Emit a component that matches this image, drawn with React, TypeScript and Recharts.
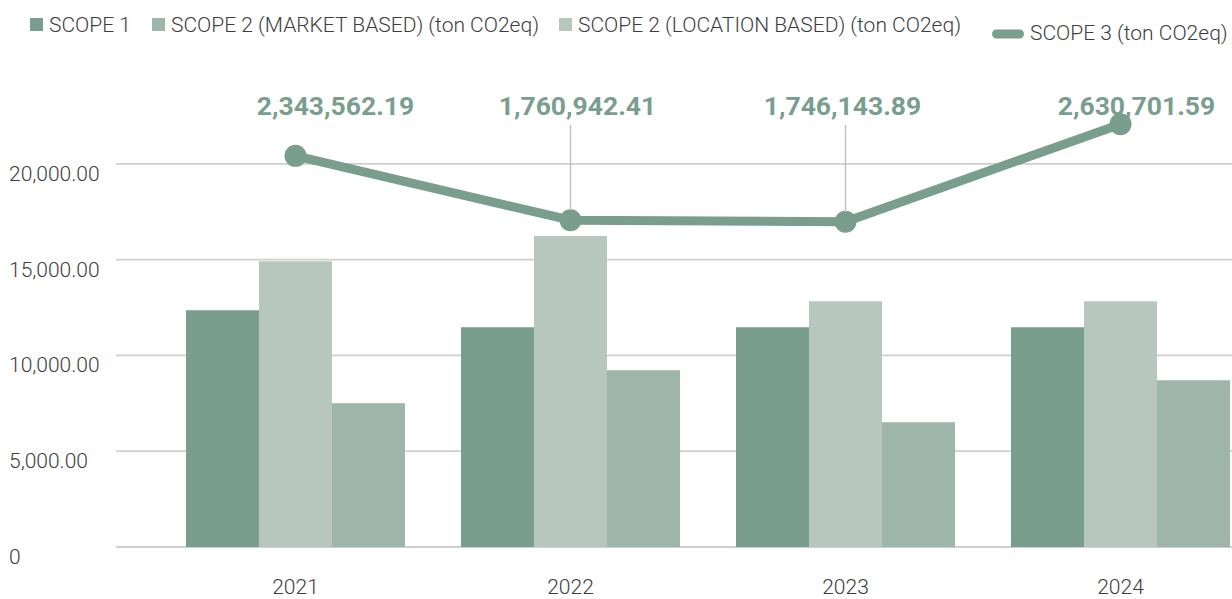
import React from 'react';
import { ComposedChart, Bar, Line, XAxis, YAxis, CartesianGrid, Legend, LabelList } from 'recharts';

// ---- data ----
const years = ['2021', '2022', '2023', '2024'];
const scope1 = [12360, 11470, 11470, 11470];
const scope2Location = [14920, 16230, 12830, 12830];
const scope2Market = [7500, 9230, 6510, 8700];
const scope3 = [2343562.19, 1760942.41, 1746143.89, 2630701.59];
const leftTicks = [0, 5000, 10000, 15000, 20000];

const NAME_S1 = 'SCOPE 1';
const NAME_S2M = 'SCOPE 2 (MARKET BASED) (ton CO2eq)';
const NAME_S2L = 'SCOPE 2 (LOCATION BASED) (ton CO2eq)';
const NAME_S3 = 'SCOPE 3 (ton CO2eq)';

// ---- styles / layout ----
const C_DARK = '#799e8e';
const C_LIGHT = '#b7c7bf';
const C_MED = '#9db5aa';
const TEXT = '#3d3d3d';
const FONT = 'Roboto, "Noto Sans", sans-serif';
const labelDx = [40, 7, -3, 16];
const leader = [false, true, true, false];

const data = years.map((y, i) => ({
  year: y,
  s1: scope1[i],
  s2l: scope2Location[i],
  s2m: scope2Market[i],
  s3: scope3[i],
}));

const fmtTick = (v: number) =>
  v === 0 ? '0' : v.toLocaleString('en-US', { minimumFractionDigits: 2, maximumFractionDigits: 2 });
const fmtLabel = (v: number) =>
  v.toLocaleString('en-US', { minimumFractionDigits: 2, maximumFractionDigits: 2 });

const YTick = (props: any) => {
  const { y, payload } = props;
  return (
    <text x={9} y={y + 17} textAnchor="start" fontFamily={FONT} fontWeight={300} fontSize={21} fill={TEXT}>
      {fmtTick(payload.value)}
    </text>
  );
};

const XTick = (props: any) => {
  const { x, payload } = props;
  return (
    <text x={x} y={594} textAnchor="middle" fontFamily={FONT} fontWeight={300} fontSize={21} fill={TEXT}>
      {payload.value}
    </text>
  );
};

const S3Label = (props: any) => {
  const { x, y, value, index } = props;
  return (
    <g>
      {leader[index] ? (
        <line x1={x} y1={125} x2={x} y2={y - 10} stroke="#c0c0c0" strokeWidth={1.5} />
      ) : null}
      <text
        x={x + labelDx[index]}
        y={115}
        textAnchor="middle"
        fontFamily={FONT}
        fontWeight={700}
        fontSize={26.5}
        fill={C_DARK}
      >
        {fmtLabel(value)}
      </text>
    </g>
  );
};

const legendItems = [
  { name: NAME_S1, color: C_DARK, kind: 'square', x: 30 },
  { name: NAME_S2M, color: C_MED, kind: 'square', x: 152 },
  { name: NAME_S2L, color: C_LIGHT, kind: 'square', x: 559 },
  { name: NAME_S3, color: C_DARK, kind: 'line', x: 992 },
];

const LegendContent = () => (
  <svg width={1300} height={50} style={{ display: 'block' }}>
    {legendItems.map((it) =>
      it.kind === 'square' ? (
        <g key={it.name}>
          <rect x={it.x} y={18} width={13} height={13} fill={it.color} />
          <text x={it.x + 19} y={32} fontFamily={FONT} fontWeight={300} fontSize={21} fill={TEXT}>
            {it.name}
          </text>
        </g>
      ) : (
        <g key={it.name}>
          <rect x={it.x} y={29.5} width={32} height={9} rx={4.5} fill={it.color} />
          <text x={it.x + 38} y={40} fontFamily={FONT} fontWeight={300} fontSize={21} fill={TEXT}>
            {it.name}
          </text>
        </g>
      )
    )}
  </svg>
);

export default function App() {
  return (
    <div
      style={{
        position: 'fixed',
        left: 0,
        top: 0,
        width: 1232,
        height: 599,
        overflow: 'hidden',
        background: '#ffffff',
      }}
    >
      <ComposedChart
        width={1300}
        height={599}
        data={data}
        margin={{ top: 68, right: 0, bottom: 0, left: 0 }}
        barGap={0}
      >
        <CartesianGrid
          horizontal={true}
          vertical={false}
          stroke="#cfcfcf"
          strokeWidth={1.8}
          yAxisId="left"
          horizontalValues={leftTicks}
        />
        <XAxis
          dataKey="year"
          height={52}
          axisLine={false}
          tickLine={false}
          padding={{ left: 42, right: 42 }}
          tick={<XTick />}
        />
        <YAxis
          yAxisId="left"
          width={116}
          domain={[0, 25000]}
          ticks={leftTicks}
          axisLine={false}
          tickLine={false}
          tick={<YTick />}
          allowDataOverflow
        />
        <YAxis yAxisId="right" orientation="right" hide domain={[-1198000, 3139000]} allowDataOverflow />
        <Legend
          layout="horizontal"
          verticalAlign="middle"
          align="center"
          wrapperStyle={{ top: 0, left: 0, width: 1300, height: 50 }}
          content={<LegendContent />}
        />
        <Bar yAxisId="left" dataKey="s1" name={NAME_S1} fill={C_DARK} barSize={73} isAnimationActive={false} />
        <Bar yAxisId="left" dataKey="s2l" name={NAME_S2L} fill={C_LIGHT} barSize={73} isAnimationActive={false} />
        <Bar yAxisId="left" dataKey="s2m" name={NAME_S2M} fill={C_MED} barSize={73} isAnimationActive={false} />
        <Line
          yAxisId="right"
          dataKey="s3"
          name={NAME_S3}
          type="linear"
          stroke={C_DARK}
          strokeWidth={9}
          strokeLinejoin="round"
          dot={{ r: 11, fill: C_DARK, stroke: C_DARK, strokeWidth: 0 }}
          activeDot={false}
          isAnimationActive={false}
        >
          <LabelList dataKey="s3" content={<S3Label />} />
        </Line>
      </ComposedChart>
    </div>
  );
}
